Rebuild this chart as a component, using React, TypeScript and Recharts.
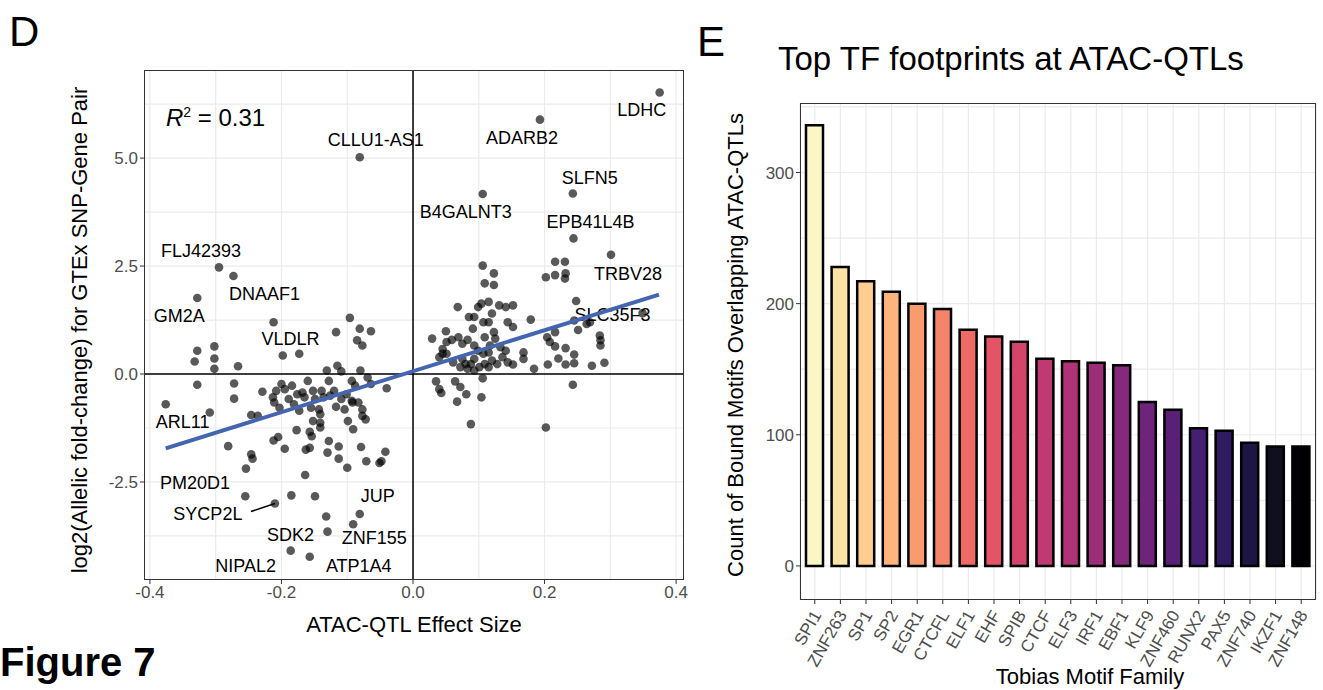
import React from "react";
import {
  ScatterChart, Scatter, XAxis, YAxis, CartesianGrid, ReferenceLine,
  BarChart, Bar, Cell,
} from "recharts";

// ---------- Panel D data ----------
const effectX = [
  -0.328,-0.332,-0.302,-0.302,-0.302,-0.328,-0.266,-0.272,-0.272,-0.309,-0.229,-0.246,-0.236,-0.198,-0.173,-0.117,-0.096,-0.081,-0.064,-0.085,-0.077,
  -0.212,-0.205,-0.195,-0.177,-0.163,-0.157,-0.157,-0.154,-0.143,-0.141,-0.141,-0.128,-0.130,-0.113,-0.113,-0.100,-0.164,-0.246,-0.244,-0.281,
  -0.079,-0.071,-0.048,-0.042,-0.051,-0.040,-0.091,-0.099,-0.072,-0.077,-0.083,-0.093,-0.101,-0.109,-0.120,-0.128,-0.131,-0.115,-0.109,-0.093,
  -0.088,-0.080,-0.069,-0.064,-0.139,-0.152,-0.160,-0.168,-0.176,-0.184,-0.195,-0.200,-0.208,-0.213,-0.211,-0.203,-0.189,-0.181,-0.173,-0.165,
  -0.149,-0.155,-0.136,-0.126,-0.117,-0.104,-0.092,-0.077,-0.141,-0.152,-0.185,-0.149,-0.132,-0.255,
  0.035,0.040,0.043,0.064,0.072,0.081,0.067,0.104,0.106,0.088,0.202,0.243,0.029,0.050,0.045,0.045,0.040,0.051,0.059,0.069,0.075,0.083,
  0.068,0.085,0.093,0.091,0.099,0.104,0.115,0.120,0.115,0.107,0.131,0.141,0.152,0.144,0.152,0.125,0.117,0.115,0.107,0.099,0.093,0.088,
  0.080,0.075,0.120,0.128,0.136,0.144,0.152,0.141,0.133,0.168,0.168,0.184,0.179,0.202,0.216,0.231,0.216,0.232,0.231,0.109,0.123,0.123,
  0.106,0.248,0.245,0.251,0.204,0.216,0.208,0.216,0.232,0.245,0.245,0.232,0.205,0.221,0.272,0.291,0.284,0.285,0.285,0.264,0.269,0.109,
  0.115,0.101,0.093,0.083,0.072,0.061,0.051,0.093,0.109,0.123,
];
const foldY = [
  0.54,0.29,0.64,0.36,0.12,-0.25,0.18,-0.22,-0.57,-0.89,-0.41,-0.95,-0.97,0.43,0.47,0.97,1.30,1.05,0.99,0.78,0.66,
  -1.54,-1.46,-1.73,-1.30,-1.75,-1.71,-1.34,-1.44,-0.82,-0.93,-1.13,-1.55,-1.82,-1.68,-1.96,-2.17,-2.34,-1.86,-1.96,-1.67,
  -1.69,-2.02,-2.02,-1.80,-2.06,-0.33,-1.28,-1.09,-1.05,-0.82,-0.66,-0.62,-0.47,-0.58,-0.39,-0.16,0.08,0.19,0.06,-0.16,
  -0.27,0.08,-0.08,-0.23,-0.39,-0.39,-0.16,-0.43,-0.47,-0.27,-0.35,-0.23,-0.39,-0.54,-0.66,-0.78,-0.58,-0.70,-0.85,-0.54,
  -0.58,-0.78,-0.54,-0.50,-0.76,-0.82,-0.66,-0.97,-1.24,-1.09,-2.81,-2.83,-3.30,-2.83,
  -0.17,-0.35,-0.44,-0.17,-0.30,-0.47,-0.64,-0.54,-0.10,-1.16,-1.24,-0.25,0.82,0.99,0.58,0.47,0.39,0.74,0.79,0.85,0.70,0.79,
  1.55,1.32,1.32,1.05,1.55,1.63,1.67,1.40,1.20,1.20,1.59,1.55,1.59,1.20,1.09,0.82,0.66,0.50,0.47,0.54,0.35,0.23,
  0.23,0.35,0.31,0.23,0.39,0.27,0.22,0.54,0.62,0.50,0.35,0.12,1.26,2.24,2.60,2.60,2.29,2.33,2.21,2.10,2.06,2.33,
  2.51,1.69,1.24,1.02,0.85,0.97,0.74,0.64,0.60,0.45,0.25,0.22,0.22,0.36,0.19,0.26,0.89,0.78,0.66,1.16,1.20,0.23,
  0.16,0.16,0.08,0.12,0.16,0.27,0.47,0.66,0.85,0.97,
];
const labeledGenes = ["LDHC","ADARB2","CLLU1-AS1","SLFN5","B4GALNT3","EPB41L4B","TRBV28","FLJ42393","DNAAF1","GM2A","SLC35F3","VLDLR","ARL11","PM20D1","SYCP2L","JUP","SDK2","ZNF155","NIPAL2","ATP1A4"];
const labeledX = [0.375,0.193,-0.081,0.243,0.106,0.244,0.301,-0.295,-0.273,-0.328,0.349,-0.212,-0.376,-0.254,-0.210,-0.081,-0.130,-0.091,-0.186,-0.157];
const labeledY = [6.52,5.89,5.02,4.18,4.17,3.14,2.76,2.47,2.27,1.76,1.41,1.20,-0.70,-2.19,-3.00,-3.24,-3.65,-3.48,-4.09,-4.23];
const fitX = [-0.376, 0.374];
const fitY = [-1.72, 1.84];
const xTicksD = [-0.4, -0.2, 0, 0.2, 0.4];
const yTicksD = [-2.5, 0, 2.5, 5.0];

// ---------- Panel E data ----------
const motifs = ["SPI1","ZNF263","SP1","SP2","EGR1","CTCFL","ELF1","EHF","SPIB","CTCF","ELF3","IRF1","EBF1","KLF9","ZNF460","RUNX2","PAX5","ZNF740","IKZF1","ZNF148"];
const motifCounts = [336,228,217,209,200,196,180,175,171,158,156,155,153,125,119,105,103,94,91,91];
const yTicksE = [0, 100, 200, 300];

// ---------- styles ----------
const barColors = ["#FBF7C4","#FBE2A5","#FECD90","#FDB57D","#F89C6E","#F4846A","#EE6A65","#E45466","#D3456B","#C03A71","#AE3477","#9A2E79","#85297C","#6E247A","#5A2078","#452072","#2F1B5F","#1D1543","#0F0F20","#000004"];
const labelOffsets: Record<string, [number, number]> = {
  LDHC: [-18, 18], ADARB2: [-18, 18], "CLLU1-AS1": [16, -17],
  SLFN5: [17, -16], B4GALNT3: [-17, 18], EPB41L4B: [17, -16],
  TRBV28: [17, 19], FLJ42393: [-18, -16], DNAAF1: [31, 18],
  GM2A: [-18, 18], SLC35F3: [-30, 2], VLDLR: [17, 17],
  ARL11: [17, 18], PM20D1: [-51, 14], SYCP2L: [-67, 10],
  JUP: [18, -18], SDK2: [-37, 3], ZNF155: [21, 14],
  NIPAL2: [-45, 15], ATP1A4: [49, 9],
};
const FONT = "'Liberation Sans', Arial, sans-serif";
const GRAY = "#4D4D4D";
const GRID = "#EBEBEB";

const points = effectX.map((x, i) => ({ x, y: foldY[i] }));
const labeled = labeledGenes.map((g, i) => ({ x: labeledX[i], y: labeledY[i], gene: g }));
const fit = fitX.map((x, i) => ({ x, y: fitY[i] }));
const barData = motifs.map((m, i) => ({ motif: m, count: motifCounts[i] }));

const Dot = (p: any) => <circle cx={p.cx} cy={p.cy} r={4.3} fill="#000" fillOpacity={0.65} />;
const LabeledDot = (p: any) => {
  const g = p.payload.gene;
  const [dx, dy] = labelOffsets[g];
  return (
    <g>
      <circle cx={p.cx} cy={p.cy} r={4.3} fill="#000" fillOpacity={0.65} />
      {g === "SYCP2L" && (
        <line x1={p.cx} y1={p.cy} x2={p.cx - 24} y2={p.cy + 8} stroke="#000" strokeWidth={1.5} />
      )}
      <text x={p.cx + dx} y={p.cy + dy} textAnchor="middle" dominantBaseline="central"
        fontFamily={FONT} fontSize={18} fill="#000">{g}</text>
    </g>
  );
};

const abs = (s: React.CSSProperties): React.CSSProperties => ({ position: "absolute", fontFamily: FONT, ...s });

export default function App() {
  return (
    <div style={{ position: "absolute", left: 0, top: 0, width: 1323, height: 690, background: "#fff", overflow: "hidden" }}>
      <div style={abs({ left: 0, top: 0, width: 700, height: 640 })}>
        <ScatterChart width={690} height={640} margin={{ top: 70, right: 6, left: 0, bottom: 0 }}>
          <CartesianGrid stroke={GRID} strokeWidth={1.2}
            verticalValues={[-0.4,-0.3,-0.2,-0.1,0,0.1,0.2,0.3,0.4]}
            horizontalValues={[-3.75,-2.5,-1.25,0,1.25,2.5,3.75,5,6.25]} />
          <XAxis type="number" dataKey="x" domain={[-0.409, 0.412]} ticks={xTicksD} height={60}
            tickFormatter={(v: number) => v.toFixed(1)} axisLine={false}
            tickLine={{ stroke: "#333" }} tickSize={4}
            tick={{ fill: GRAY, fontSize: 17, fontFamily: FONT }} allowDataOverflow />
          <YAxis type="number" dataKey="y" domain={[-4.77, 7.04]} ticks={yTicksD} width={144}
            tickFormatter={(v: number) => v.toFixed(1)} axisLine={false}
            tickLine={{ stroke: "#333" }} tickSize={4}
            tick={{ fill: GRAY, fontSize: 17, fontFamily: FONT }} allowDataOverflow />
          <ReferenceLine x={0} stroke="#000" strokeWidth={1.5} />
          <ReferenceLine y={0} stroke="#000" strokeWidth={1.5} />
          <Scatter data={points} shape={Dot} isAnimationActive={false} />
          <Scatter data={labeled} shape={LabeledDot} isAnimationActive={false} />
          <Scatter data={fit} line={{ stroke: "#4466B0", strokeWidth: 4 }} shape={() => null} isAnimationActive={false} />
        </ScatterChart>
        <div style={abs({ left: 144, top: 70, width: 540, height: 510, border: "1px solid #333", boxSizing: "border-box", pointerEvents: "none" })} />
      </div>
      <div style={abs({ left: 166, top: 104, fontSize: 24 })}>
        <i>R</i><sup style={{ fontSize: 14 }}>2</sup> = 0.31
      </div>
      <div style={abs({ left: 414, top: 612, transform: "translateX(-50%)", fontSize: 22, whiteSpace: "nowrap" })}>ATAC-QTL Effect Size</div>
      <div style={abs({ left: 80, top: 330, transform: "translate(-50%,-50%) rotate(-90deg)", fontSize: 22, whiteSpace: "nowrap" })}>
        log2(Allelic fold-change) for GTEx SNP-Gene Pair
      </div>
      <div style={abs({ left: 9, top: 8, fontSize: 42 })}>D</div>
      <div style={abs({ left: 0, top: 640, fontSize: 40, fontWeight: "bold" })}>Figure 7</div>

      <div style={abs({ left: 700, top: 0, width: 623, height: 690 })}>
        <BarChart width={623} height={690} data={barData} margin={{ top: 103, right: 7, left: 0, bottom: 0 }} barSize={17}>
          <CartesianGrid stroke={GRID} strokeWidth={1.2} horizontalValues={[0,50,100,150,200,250,300,350]} />
          <XAxis dataKey="motif" height={90} interval={0} padding={{ left: 2, right: 2 }} axisLine={false}
            tickLine={{ stroke: "#333" }} tickSize={4}
            tick={(p: any) => (
              <text x={p.x} y={p.y} transform={`rotate(-60 ${p.x} ${p.y})`} dx={-4} dy={6}
                textAnchor="end" dominantBaseline="middle" fill={GRAY} fontSize={17} fontFamily={FONT}>
                {p.payload.value}
              </text>
            )} />
          <YAxis type="number" domain={[-26, 353]} ticks={yTicksE} width={100} axisLine={false}
            tickLine={{ stroke: "#333" }} tickSize={4}
            tick={{ fill: GRAY, fontSize: 17, fontFamily: FONT }} allowDataOverflow />
          <Bar dataKey="count" stroke="#000" strokeWidth={2.5} isAnimationActive={false}>
            {barData.map((d, i) => <Cell key={d.motif} fill={barColors[i]} />)}
          </Bar>
        </BarChart>
        <div style={abs({ left: 100, top: 103, width: 516, height: 497, border: "1px solid #333", boxSizing: "border-box", pointerEvents: "none" })} />
      </div>
      <div style={abs({ left: 697, top: 18, fontSize: 42 })}>E</div>
      <div style={abs({ left: 778, top: 40, fontSize: 33, whiteSpace: "nowrap" })}>Top TF footprints at ATAC-QTLs</div>
      <div style={abs({ left: 1090, top: 664, transform: "translateX(-50%)", fontSize: 22, whiteSpace: "nowrap" })}>Tobias Motif Family</div>
      <div style={abs({ left: 736, top: 345, transform: "translate(-50%,-50%) rotate(-90deg)", fontSize: 22, whiteSpace: "nowrap" })}>
        Count of Bound Motifs Overlapping ATAC-QTLs
      </div>
    </div>
  );
}
